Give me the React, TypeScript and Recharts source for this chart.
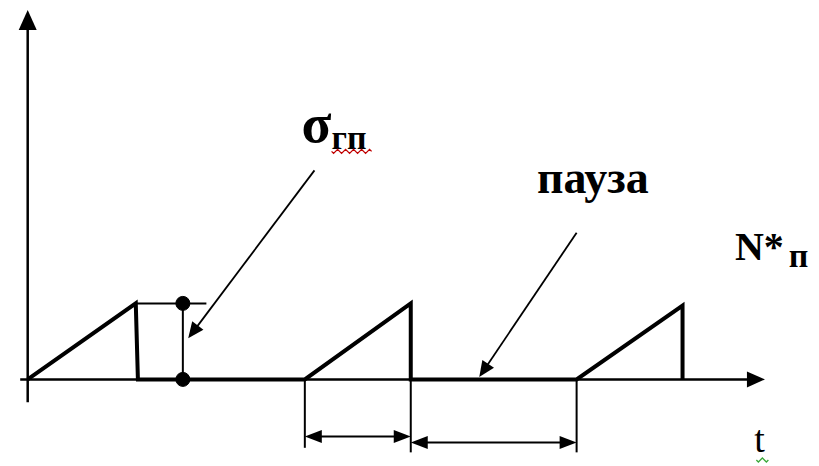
import React from 'react';
import { LineChart, Line, XAxis, YAxis, ReferenceLine, ReferenceDot } from 'recharts';

// sawtooth N*п(t): rise, drop, pause ...
const tValues = [0, 1.01, 1.03, 2.59, 3.58, 3.58, 5.13, 6.12, 6.12];
const nValues = [0, 1.0, 0, 0, 1.0, 0, 0, 0.97, 0];

// dimension arrows under the axis: [from, to, level]
const dimArrows = [
  [2.59, 3.58, -0.75],
  [3.58, 5.13, -0.83],
];
// extension lines: [t, bottom]
const extLines = [
  [2.59, -0.9],
  [3.58, -0.96],
  [5.13, -0.96],
];

const sigmaMark = { t0: 1.01, t1: 1.67, tDot: 1.45, level: 1.0 };

const data = tValues.map((t, i) => ({ t, n: nValues[i] }));

const FONT = '"Liberation Serif", "Times New Roman", serif';

type Heads = 'none' | 'end' | 'both';

const arrow = (width: number, heads: Heads, len: number, half: number) => (p: any) => {
  const { x1, y1, x2, y2 } = p;
  const dx = x2 - x1;
  const dy = y2 - y1;
  const d = Math.sqrt(dx * dx + dy * dy) || 1;
  const ux = dx / d;
  const uy = dy / d;
  const head = (tx: number, ty: number, sx: number, sy: number) => {
    const bx = tx - sx * len;
    const by = ty - sy * len;
    return `${tx},${ty} ${bx - sy * half},${by + sx * half} ${bx + sy * half},${by - sx * half}`;
  };
  const a = heads === 'both' ? len * 0.8 : 0;
  const b = heads !== 'none' ? len * 0.8 : 0;
  return (
    <g>
      <line
        x1={x1 + ux * a}
        y1={y1 + uy * a}
        x2={x2 - ux * b}
        y2={y2 - uy * b}
        stroke="#000"
        strokeWidth={width}
      />
      {heads !== 'none' && <polygon points={head(x2, y2, ux, uy)} fill="#000" />}
      {heads === 'both' && <polygon points={head(x1, y1, -ux, -uy)} fill="#000" />}
    </g>
  );
};

const label =
  (text: string, size: number, weight: string, sub?: string, subSize?: number, subDy = 3, subDx = 0) =>
  (p: any) =>
    (
      <text x={p.cx} y={p.cy} style={{ fontFamily: FONT, fontSize: size, fontWeight: weight }} fill="#000">
        {text}
        {sub && (
          <tspan style={{ fontSize: subSize }} dx={subDx} dy={subDy}>
            {sub}
          </tspan>
        )}
      </text>
    );

// spell-check squiggle left in the source picture
const squiggle = (w: number, color: string) => (p: any) => {
  let d = `M${p.cx},${p.cy}`;
  for (let i = 0; i < w / 4; i++) d += ` l2,${i % 2 ? -2 : 2} l2,${i % 2 ? 2 : -2}`;
  return <path d={d} fill="none" stroke={color} strokeWidth={1.3} />;
};

export default function App() {
  return (
    <div style={{ position: 'absolute', left: 0, top: 0, background: '#fff' }}>
      <LineChart
        width={819}
        height={466}
        data={data}
        margin={{ top: 10, right: 53, bottom: 3, left: 17 }}
      >
        <XAxis type="number" dataKey="t" domain={[-0.1, 6.9]} allowDataOverflow hide />
        <YAxis type="number" domain={[-1.1, 4.86]} allowDataOverflow hide />

        {/* axes */}
        <ReferenceLine
          segment={[{ x: 0, y: -0.3 }, { x: 0, y: 4.86 }]}
          shape={arrow(2.5, 'end', 20, 9)}
        />
        <ReferenceLine
          segment={[{ x: -0.07, y: 0 }, { x: 6.89, y: 0 }]}
          shape={arrow(2.5, 'end', 18, 8)}
        />

        {/* extension and dimension lines */}
        {extLines.map(([t, b], i) => (
          <ReferenceLine
            key={`ext-${i}`}
            segment={[{ x: t, y: 0 }, { x: t, y: b }]}
            shape={arrow(2, 'none', 0, 0)}
          />
        ))}
        {dimArrows.map(([a, b, lv], i) => (
          <ReferenceLine
            key={`dim-${i}`}
            segment={[{ x: a, y: lv }, { x: b, y: lv }]}
            shape={arrow(2, 'both', 17, 6.5)}
          />
        ))}

        {/* sigma marker */}
        <ReferenceLine
          segment={[{ x: sigmaMark.t0, y: sigmaMark.level }, { x: sigmaMark.t1, y: sigmaMark.level }]}
          shape={arrow(2, 'none', 0, 0)}
        />
        <ReferenceLine
          segment={[{ x: sigmaMark.tDot, y: 0 }, { x: sigmaMark.tDot, y: sigmaMark.level }]}
          shape={arrow(2, 'none', 0, 0)}
        />

        {/* leaders */}
        <ReferenceLine
          segment={[{ x: 2.68, y: 2.75 }, { x: 1.5, y: 0.54 }]}
          shape={arrow(1.8, 'end', 16, 7)}
        />
        <ReferenceLine
          segment={[{ x: 5.13, y: 1.93 }, { x: 4.22, y: 0.03 }]}
          shape={arrow(1.8, 'end', 16, 7)}
        />

        <Line
          dataKey="n"
          type="linear"
          stroke="#000"
          strokeWidth={4}
          strokeLinejoin="miter"
          dot={false}
          activeDot={false}
          isAnimationActive={false}
        />

        <ReferenceDot x={sigmaMark.tDot} y={sigmaMark.level} r={7} fill="#000" stroke="#000" />
        <ReferenceDot x={sigmaMark.tDot} y={0} r={7} fill="#000" stroke="#000" />

        {/* labels */}
        <ReferenceDot x={2.56} y={3.12} r={0} shape={label('σ', 55, 'bold', 'гп', 34, 7)} />
        <ReferenceDot x={4.76} y={2.45} r={0} shape={label('пауза', 46, 'bold')} />
        <ReferenceDot x={6.61} y={1.57} r={0} shape={label('N*', 40, 'bold', 'п', 34, 7, 5)} />
        <ReferenceDot x={6.79} y={-0.96} r={0} shape={label('t', 38, 'normal')} />

        <ReferenceDot x={2.84} y={3.0} r={0} shape={squiggle(40, '#c00000')} />
        <ReferenceDot x={6.81} y={-1.06} r={0} shape={squiggle(10, '#3aa83a')} />
      </LineChart>
    </div>
  );
}
